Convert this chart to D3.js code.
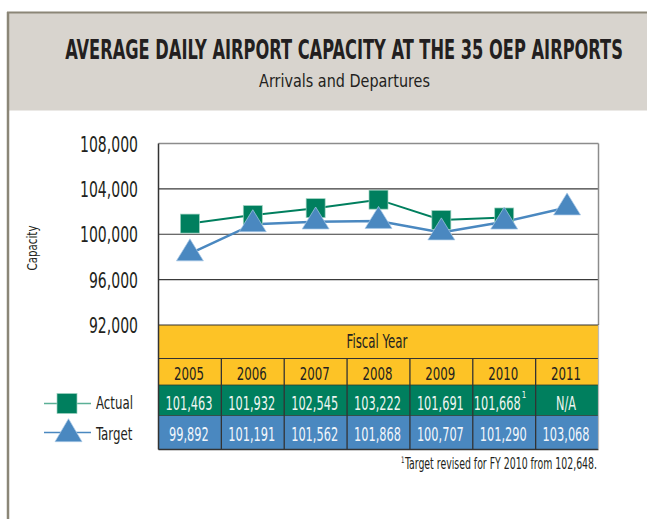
<!DOCTYPE html>
<html>
<head>
<meta charset="utf-8">
<script src="https://cdn.jsdelivr.net/npm/d3@7"></script>
<style>
  html, body { margin: 0; padding: 0; background: #fff; }
  svg { display: block; }
  text { font-family: "Liberation Sans Narrow", "DejaVu Sans Condensed", "Roboto Condensed", sans-serif; }
</style>
</head>
<body>
<svg id="chart" width="647" height="519"></svg>
<script>
// ---- data ----
const years = ["2005", "2006", "2007", "2008", "2009", "2010", "2011"];
// values as plotted in the chart
const actualValues = [100940, 101690, 102300, 103050, 101250, 101480, null];
const targetValues = [98300, 100870, 101110, 101160, 100150, 101100, 102350];
// values printed in the table
const actualLabels = ["101,463", "101,932", "102,545", "103,222", "101,691", "101,668", "N/A"];
const targetLabels = ["99,892", "101,191", "101,562", "101,868", "100,707", "101,290", "103,068"];
const yTicks = [92000, 96000, 100000, 104000, 108000];
const seriesNames = ["Actual", "Target"];

// ---- styles ----
const C = {
  green: "#007f5e", greenLight: "#5bb096", blue: "#4a88c0", yellow: "#fdc326",
  frame: "#8b8677", band: "#d8d4ce", ink: "#231f20"
};

const svg = d3.select("#chart");

// helpers to emulate a condensed face: measure, then squeeze horizontally
function widthOf(str, size, weight) {
  const t = svg.append("text").attr("font-size", size).attr("font-weight", weight || "normal").text(str);
  const w = t.node().getComputedTextLength();
  t.remove();
  return w;
}
function squeeze(sel, f) {
  sel.each(function () {
    const t = d3.select(this);
    const x0 = +t.attr("x") || 0, y0 = +t.attr("y") || 0;
    t.attr("x", 0).attr("y", 0).attr("transform", `translate(${x0},${y0}) scale(${f},1)`);
  });
}

// frame & title band
svg.append("rect").attr("x", 8).attr("y", 12.5).attr("width", 639).attr("height", 98).attr("fill", C.band);
svg.append("line").attr("x1", 7).attr("x2", 647).attr("y1", 12.5).attr("y2", 12.5).attr("stroke", C.frame).attr("stroke-width", 2);
svg.append("line").attr("x1", 8).attr("x2", 8).attr("y1", 12).attr("y2", 519).attr("stroke", C.frame).attr("stroke-width", 2.5);

const titleStr = "AVERAGE DAILY AIRPORT CAPACITY AT THE 35 OEP AIRPORTS";
svg.append("text").attr("x", 344).attr("y", 59).attr("text-anchor", "middle")
  .attr("font-size", 26).attr("font-weight", "bold").attr("fill", C.ink)
  .text(titleStr).call(squeeze, 558 / widthOf(titleStr, 26, "bold"));
const subStr = "Arrivals and Departures";
svg.append("text").attr("x", 344.5).attr("y", 87).attr("text-anchor", "middle")
  .attr("font-size", 18).attr("fill", C.ink)
  .text(subStr).call(squeeze, 171 / widthOf(subStr, 18));

// ---- scales ----
const pLeft = 158.5, pRight = 598.5, pTop = 143.5, pBottom = 325;
const x = d3.scaleBand().domain(years).range([pLeft, pRight]).padding(0);
const bw = x.bandwidth();
const cx = d => x(d) + bw / 2;
const y = d3.scaleLinear().domain([92000, 108000]).range([pBottom, pTop]);

// gridlines
svg.append("g").selectAll("line").data(yTicks.filter(t => t > 92000 && t < 108000)).join("line")
  .attr("x1", pLeft).attr("x2", pRight).attr("y1", d => y(d)).attr("y2", d => y(d))
  .attr("stroke", "#3a3a3a").attr("stroke-width", 1.2);
// plot border
svg.append("line").attr("x1", pLeft).attr("x2", pRight).attr("y1", pTop).attr("y2", pTop).attr("stroke", "#8c8c8c").attr("stroke-width", 1.5);
svg.append("line").attr("x1", pRight).attr("x2", pRight).attr("y1", pTop).attr("y2", pBottom).attr("stroke", "#8c8c8c").attr("stroke-width", 1.5);

// y axis labels
const yFmt = d3.format(",");
const yAxis = d3.axisLeft(y).tickValues(yTicks).tickSize(0).tickPadding(0).tickFormat(yFmt);
const ga = svg.append("g").attr("transform", `translate(138,0)`).call(yAxis);
ga.select(".domain").remove();
const fY = 58 / widthOf("108,000", 21);
ga.selectAll("text").attr("font-size", 21).attr("fill", C.ink).attr("dy", "0.36em")
  .style("font-family", '"Liberation Sans Narrow", "DejaVu Sans Condensed", sans-serif')
  .attr("transform", `scale(${fY},1)`);

svg.append("text").attr("x", 37).attr("y", 248).attr("text-anchor", "middle")
  .attr("font-size", 14).attr("fill", C.ink).text("Capacity")
  .each(function () {
    const f = 45 / this.getComputedTextLength();
    d3.select(this).attr("x", 0).attr("y", 0).attr("transform", `translate(37,248) rotate(-90) scale(${f},1)`);
  });

// ---- table ----
const rows = { head: [325, 358.5], year: [358.5, 385], act: [385, 415.5], tgt: [415.5, 449.5] };
svg.append("rect").attr("x", pLeft).attr("y", rows.head[0]).attr("width", pRight - pLeft).attr("height", rows.year[1] - rows.head[0]).attr("fill", C.yellow);
svg.append("rect").attr("x", pLeft).attr("y", rows.act[0]).attr("width", pRight - pLeft).attr("height", rows.act[1] - rows.act[0]).attr("fill", C.green);
svg.append("rect").attr("x", pLeft).attr("y", rows.tgt[0]).attr("width", pRight - pLeft).attr("height", rows.tgt[1] - rows.tgt[0]).attr("fill", C.blue);

svg.append("text").attr("x", 377).attr("y", 347.5).attr("text-anchor", "middle")
  .attr("font-size", 19).attr("fill", C.ink).text("Fiscal Year")
  .call(squeeze, 61 / widthOf("Fiscal Year", 19));

const fYear = 30 / widthOf("2005", 18);
svg.append("g").selectAll("text").data(years).join("text")
  .attr("x", d => cx(d) - 1).attr("y", 380).attr("text-anchor", "middle")
  .attr("font-size", 18).attr("fill", C.ink).text(d => d)
  .call(squeeze, fYear);

const fVal = 47 / widthOf("101,463", 19);
svg.append("g").selectAll("text").data(actualLabels).join("text")
  .attr("x", (d, i) => cx(years[i]) - (i === 5 ? 7 : 1)).attr("y", 410).attr("text-anchor", "middle")
  .attr("font-size", 19).attr("fill", "#eef5f1").text(d => d)
  .call(squeeze, fVal);
// footnote marker on 2010 actual
svg.append("text").attr("x", cx(years[5]) + 17.5).attr("y", 398).attr("font-size", 8).attr("fill", "#eef5f1").text("1");

svg.append("g").selectAll("text").data(targetLabels).join("text")
  .attr("x", (d, i) => cx(years[i]) - 1).attr("y", 441).attr("text-anchor", "middle")
  .attr("font-size", 19).attr("fill", "#f2f6fb").text(d => d)
  .call(squeeze, fVal);

// table lines
svg.append("line").attr("x1", pLeft).attr("x2", pRight).attr("y1", rows.head[0]).attr("y2", rows.head[0]).attr("stroke", "#333").attr("stroke-width", 1.2);
svg.append("line").attr("x1", pLeft).attr("x2", pRight).attr("y1", rows.year[0]).attr("y2", rows.year[0]).attr("stroke", "#333").attr("stroke-width", 1.2);
svg.append("line").attr("x1", pLeft).attr("x2", pRight).attr("y1", rows.tgt[1]).attr("y2", rows.tgt[1]).attr("stroke", "#333").attr("stroke-width", 1.5);
svg.append("line").attr("x1", pLeft).attr("x2", pRight).attr("y1", rows.act[0]).attr("y2", rows.act[0]).attr("stroke", "#2a3a30").attr("stroke-width", 0.8);
svg.append("line").attr("x1", pLeft).attr("x2", pRight).attr("y1", rows.tgt[0]).attr("y2", rows.tgt[0]).attr("stroke", "#2a3a30").attr("stroke-width", 0.8);
svg.append("g").selectAll("line").data(years.slice(1)).join("line")
  .attr("x1", d => x(d)).attr("x2", d => x(d)).attr("y1", rows.year[0]).attr("y2", rows.tgt[1])
  .attr("stroke", "#333").attr("stroke-width", 1.3);
svg.append("line").attr("x1", pLeft).attr("x2", pLeft).attr("y1", pTop).attr("y2", rows.tgt[1]).attr("stroke", "#333").attr("stroke-width", 1.5);
svg.append("line").attr("x1", pRight).attr("x2", pRight).attr("y1", pBottom).attr("y2", rows.tgt[1]).attr("stroke", "#bbb").attr("stroke-width", 1.2);

const noteStr = "Target revised for FY 2010 from 102,648.";
svg.append("text").attr("x", 597).attr("y", 468.5).attr("text-anchor", "end")
  .attr("font-size", 15.5).attr("fill", C.ink)
  .call(t => {
    t.append("tspan").attr("font-size", 9).attr("dy", -6).text("1");
    t.append("tspan").attr("dy", 6).attr("dx", 1).text(noteStr);
  })
  .call(squeeze, 197 / (widthOf(noteStr, 15.5) + 7));

// ---- series ----
const tri = (w, h) => `M0,${-2 * h / 3}L${w / 2},${h / 3}L${-w / 2},${h / 3}Z`;
const actualPts = years.map((yr, i) => ({ yr, v: actualValues[i] })).filter(d => d.v != null);
const targetPts = years.map((yr, i) => ({ yr, v: targetValues[i] })).filter(d => d.v != null);
const line = d3.line().x(d => cx(d.yr)).y(d => y(d.v));

svg.append("path").datum(actualPts).attr("d", line).attr("fill", "none").attr("stroke", C.green).attr("stroke-width", 2);
svg.append("path").datum(targetPts).attr("d", line).attr("fill", "none").attr("stroke", C.blue).attr("stroke-width", 2.5);

svg.append("g").selectAll("rect").data(actualPts).join("rect")
  .attr("x", d => cx(d.yr) - 9.5).attr("y", d => y(d.v) - 9.5).attr("width", 19).attr("height", 19)
  .attr("fill", C.green).attr("stroke", "#9fd2c0").attr("stroke-width", 0.7);
svg.append("g").selectAll("path").data(targetPts).join("path")
  .attr("transform", d => `translate(${cx(d.yr)},${y(d.v)})`).attr("d", tri(27, 22))
  .attr("fill", C.blue).attr("stroke", "#a9c9e6").attr("stroke-width", 0.7);

// ---- legend ----
const lg = svg.append("g");
const legendRows = [{ name: seriesNames[0], ly: 403.5, ty: 408.5 }, { name: seriesNames[1], ly: 432.5, ty: 439.5 }];
lg.append("line").attr("x1", 44).attr("x2", 91).attr("y1", legendRows[0].ly).attr("y2", legendRows[0].ly).attr("stroke", C.greenLight).attr("stroke-width", 1.5);
lg.append("rect").attr("x", 57).attr("y", legendRows[0].ly - 10).attr("width", 20).attr("height", 20).attr("fill", C.green).attr("stroke", "#9fd2c0").attr("stroke-width", 0.7);
lg.append("line").attr("x1", 44).attr("x2", 91).attr("y1", legendRows[1].ly).attr("y2", legendRows[1].ly).attr("stroke", C.blue).attr("stroke-width", 1.5);
lg.append("path").attr("transform", `translate(68.5,${legendRows[1].ly + 1.5})`).attr("d", tri(27, 23)).attr("fill", C.blue).attr("stroke", "#a9c9e6").attr("stroke-width", 0.7);
const fLeg = 37 / widthOf("Actual", 17);
lg.selectAll("text").data(legendRows).join("text")
  .attr("x", 96).attr("y", d => d.ty).attr("font-size", 17).attr("fill", C.ink).text(d => d.name)
  .call(squeeze, fLeg);
</script>
</body>
</html>
